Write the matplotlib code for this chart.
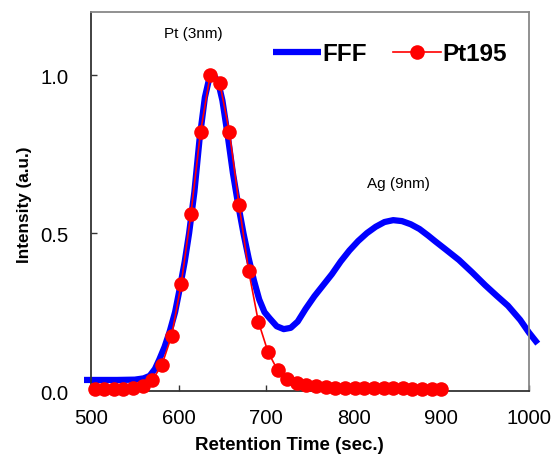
import matplotlib
matplotlib.use('Agg')
import matplotlib.pyplot as plt

# FFF detector trace
fff_time = [492, 510, 530, 550, 560, 567, 573, 578, 584, 590, 596, 601, 607, 612, 618,
            624, 630, 635, 640, 645, 650, 656, 662, 668, 674, 680, 686, 692, 698, 704,
            712, 720, 728, 736, 745, 755, 765, 775, 785, 795, 805, 815, 825, 835, 845,
            855, 865, 875, 885, 893, 905, 920, 935, 950, 963, 976, 990, 1000, 1010]
fff_val = [0.035, 0.035, 0.035, 0.036, 0.040, 0.048, 0.070, 0.100, 0.140, 0.190, 0.250, 0.320, 0.410, 0.500, 0.630,
           0.800, 0.930, 0.990, 1.000, 0.980, 0.920, 0.810, 0.690, 0.590, 0.500, 0.420, 0.350, 0.290, 0.250, 0.230,
           0.205, 0.196, 0.200, 0.220, 0.260, 0.300, 0.335, 0.370, 0.410, 0.445, 0.475, 0.500, 0.520, 0.535, 0.541,
           0.538, 0.528, 0.513, 0.492, 0.474, 0.448, 0.415, 0.376, 0.335, 0.302, 0.270, 0.225, 0.185, 0.150]

# Pt195 ICP-MS points
pt_time = [504 + 11 * i for i in range(37)]
pt_val = [0.005, 0.005, 0.005, 0.007, 0.009, 0.015, 0.035, 0.083, 0.175, 0.34,
          0.56, 0.82, 1.0, 0.975, 0.82, 0.59, 0.38, 0.22, 0.124, 0.066,
          0.038, 0.025, 0.018, 0.015, 0.012, 0.011, 0.010, 0.010, 0.009, 0.009,
          0.008, 0.008, 0.008, 0.007, 0.007, 0.007, 0.006]

xticks = [500, 600, 700, 800, 900, 1000]
yticks = [0.0, 0.5, 1.0]

plt.rcParams['font.family'] = ['Liberation Sans', 'DejaVu Sans']

fig = plt.figure(figsize=(5.56, 4.60), dpi=100)
ax = fig.add_axes([0.1637, 0.1478, 0.9514 - 0.1637, 0.9717 - 0.1478])

ax.plot(fff_time, fff_val, color='#0000ff', lw=4.5, label='FFF', clip_on=False, zorder=2,
        solid_capstyle='butt')
ax.plot(pt_time, pt_val, color='#ff0000', lw=1.2, marker='o', markersize=10.5,
        markeredgewidth=0, label='Pt195', clip_on=False, zorder=3)

ax.set_xlim(500, 1000)
ax.set_ylim(0, 1.2)
ax.set_xticks(xticks)
ax.set_yticks(yticks)
ax.set_xticklabels([str(t) for t in xticks])
ax.set_yticklabels(['%.1f' % t for t in yticks])
ax.tick_params(direction='in', length=4, width=1, labelsize=14.6, colors='#333333',
               labelcolor='black')
ax.tick_params(axis='x', pad=12)
ax.tick_params(axis='y', pad=16)

for side in ['left', 'bottom']:
    ax.spines[side].set_color('#333333')
    ax.spines[side].set_linewidth(1.3)
for side in ['top', 'right']:
    ax.spines[side].set_color('#888888')
    ax.spines[side].set_linewidth(1.3)

ax.set_xlabel('Retention Time (sec.)', fontsize=13.5, fontweight='bold')
ax.xaxis.set_label_coords(0.452, -0.118)
ax.set_ylabel('Intensity (a.u.)', fontsize=12.3, fontweight='bold')
ax.yaxis.set_label_coords(-0.135, 0.493)

ax.text(617, 1.135, 'Pt (3nm)', fontsize=11, ha='center', va='center')
ax.text(851, 0.66, 'Ag (9nm)', fontsize=11, ha='center', va='center')

ax.legend(loc='center right', bbox_to_anchor=(0.982, 0.89), ncol=2, frameon=False,
          prop={'size': 17.5, 'weight': 'bold'}, handlelength=1.95, handletextpad=0.05,
          columnspacing=1.1, borderaxespad=0.2)

fig.savefig('out.png', dpi=100)
